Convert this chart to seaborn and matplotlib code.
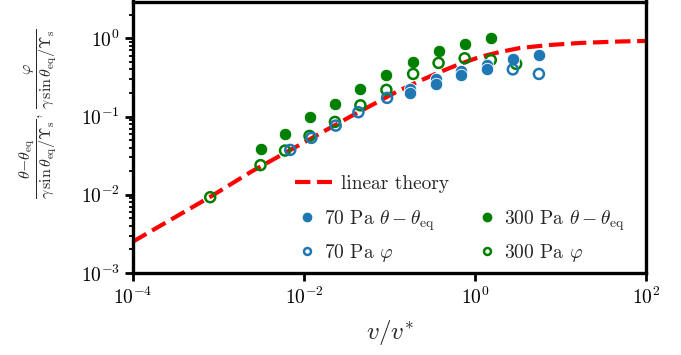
import numpy as np
import pandas as pd
import matplotlib
matplotlib.use("Agg")
import matplotlib.pyplot as plt
import seaborn as sns
from matplotlib.lines import Line2D
from matplotlib.ticker import LogLocator, NullLocator, NullFormatter, FixedLocator, LogFormatterSciNotation

# ---------------- data ----------------
theory_x = [1e-4, 8.0e-4, 2.43e-3, 8.88e-3, 3.43e-2, 0.122, 0.226, 0.389, 0.667,
            1.14, 1.96, 3.37, 7.57, 17.0, 50.0, 100.0]
theory_y = [0.00252, 0.0094, 0.0198, 0.0434, 0.0988, 0.208, 0.285, 0.371, 0.47,
            0.577, 0.668, 0.752, 0.821, 0.871, 0.91, 0.924]

x300_theta = [0.0031, 0.006, 0.0116, 0.023, 0.0457, 0.092, 0.189, 0.375, 0.757, 1.53]
y300_theta = [0.0386, 0.060, 0.0997, 0.1436, 0.223, 0.337, 0.50, 0.695, 0.853, 1.01]

x300_phi = [8.0e-4, 0.0031, 0.006, 0.0116, 0.023, 0.0457, 0.092, 0.189, 0.375, 0.757, 1.53, 3.03]
y300_phi = [0.0093, 0.0239, 0.0367, 0.0565, 0.0853, 0.139, 0.219, 0.35, 0.484, 0.555, 0.528, 0.47]

x70_theta = [0.176, 0.176, 0.349, 0.349, 0.685, 0.685, 1.38, 1.38, 2.77, 5.59]
y70_theta = [0.227, 0.20, 0.305, 0.261, 0.386, 0.337, 0.452, 0.409, 0.54, 0.607]

x70_phi = [0.0069, 0.0122, 0.0235, 0.0433, 0.0937, 2.77, 5.59]
y70_phi = [0.0374, 0.0533, 0.0765, 0.1135, 0.173, 0.40, 0.35]

labels = ["linear theory", r"70 Pa $\theta-\theta_{\rm eq}$", r"70 Pa $\varphi$",
          r"300 Pa $\theta-\theta_{\rm eq}$", r"300 Pa $\varphi$"]

BLUE = "#1f77b4"
GREEN = "#008000"

# ---------------- style ----------------
sns.set_theme(style="ticks")
plt.rcParams.update({
    "font.family": ["serif"],
    "font.serif": ["cmr10", "DejaVu Serif"],
    "mathtext.fontset": "cm",
    "axes.formatter.use_mathtext": True,
    "axes.unicode_minus": False,
    "axes.linewidth": 2.4,
    "axes.edgecolor": "black",
    "xtick.color": "black",
    "ytick.color": "black",
    "xtick.major.width": 2.0,
    "ytick.major.width": 2.0,
    "xtick.minor.width": 1.3,
    "ytick.minor.width": 1.3,
    "xtick.major.size": 6,
    "ytick.major.size": 6,
    "xtick.minor.size": 3,
    "ytick.minor.size": 3,
    "xtick.labelsize": 14,
    "ytick.labelsize": 14,
})

fig = plt.figure(figsize=(6.81, 3.55), dpi=100)
ax = fig.add_axes([133 / 681, 1 - 273 / 355, (646 - 133) / 681, (273 - 1.5) / 355])

ax.set_xscale("log")
ax.set_yscale("log")

df_th = pd.DataFrame({"x": theory_x, "y": theory_y})
sns.lineplot(data=df_th, x="x", y="y", ax=ax, color="red", lw=3, linestyle="--",
             sort=False, estimator=None, zorder=2, legend=False)

df_g_t = pd.DataFrame({"x": x300_theta, "y": y300_theta})
df_g_p = pd.DataFrame({"x": x300_phi, "y": y300_phi})
df_b_t = pd.DataFrame({"x": x70_theta, "y": y70_theta})
df_b_p = pd.DataFrame({"x": x70_phi, "y": y70_phi})

sns.scatterplot(data=df_g_t, x="x", y="y", ax=ax, color=GREEN, s=80,
                edgecolor="white", linewidth=0.6, zorder=3, legend=False)
sns.scatterplot(data=df_g_p, x="x", y="y", ax=ax, s=52, facecolor="none",
                edgecolor=GREEN, linewidth=1.8, zorder=3, legend=False)
sns.scatterplot(data=df_b_t, x="x", y="y", ax=ax, color=BLUE, s=80,
                edgecolor="white", linewidth=0.6, zorder=3, legend=False)
sns.scatterplot(data=df_b_p, x="x", y="y", ax=ax, s=52, facecolor="none",
                edgecolor=BLUE, linewidth=1.8, zorder=3, legend=False)

ax.set_xlim(1e-4, 1e2)
ax.set_ylim(1e-3, 2.95)

ax.xaxis.set_major_locator(FixedLocator([1e-4, 1e-2, 1e0, 1e2]))
ax.xaxis.set_major_formatter(LogFormatterSciNotation())
ax.xaxis.set_minor_locator(NullLocator())
ax.yaxis.set_major_locator(LogLocator(base=10, numticks=10))
ax.yaxis.set_minor_locator(LogLocator(base=10, subs=np.arange(2, 10), numticks=20))
ax.yaxis.set_minor_formatter(NullFormatter())
ax.tick_params(which="both", direction="out", top=False, right=False)
for s in ax.spines.values():
    s.set_visible(True)
    s.set_linewidth(2.4)

ax.set_xlabel(r"$v/v^{*}$", fontsize=18)
ax.xaxis.set_label_coords(0.5, -0.165)
ax.set_ylabel(r"$\dfrac{\theta{-}\theta_{\rm eq}}{\gamma\,\sin\theta_{\rm eq}/\Upsilon_{\rm s}}$, "
              r"$\dfrac{\varphi}{\gamma\,\sin\theta_{\rm eq}/\Upsilon_{\rm s}}$", fontsize=11.5)
ax.yaxis.set_label_coords(-0.145, 0.585)

# legends
h_line = Line2D([], [], color="red", lw=3, linestyle="--")
leg1 = ax.legend([h_line], [labels[0]], loc="center left",
                 bbox_to_anchor=(0.315, 1 - (184 - 1.5) / 271.5),
                 frameon=False, fontsize=14, handlelength=1.9, handletextpad=0.5,
                 borderaxespad=0, borderpad=0)
ax.add_artist(leg1)

h_bt = Line2D([], [], ls="none", marker="o", ms=6, mfc=BLUE, mec=BLUE)
h_bp = Line2D([], [], ls="none", marker="o", ms=5, mfc="none", mec=BLUE, mew=1.8)
h_gt = Line2D([], [], ls="none", marker="o", ms=6, mfc=GREEN, mec=GREEN)
h_gp = Line2D([], [], ls="none", marker="o", ms=5, mfc="none", mec=GREEN, mew=1.8)
leg2 = ax.legend([h_bt, h_bp, h_gt, h_gp], labels[1:], ncol=2, loc="upper left",
                 bbox_to_anchor=(0.32, 1 - (208 - 1.5) / 271.5), frameon=False, fontsize=14,
                 handlelength=1.0, handletextpad=0.4, columnspacing=2.15, labelspacing=0.48,
                 borderaxespad=0, borderpad=0)

fig.savefig("out.png", dpi=100)
